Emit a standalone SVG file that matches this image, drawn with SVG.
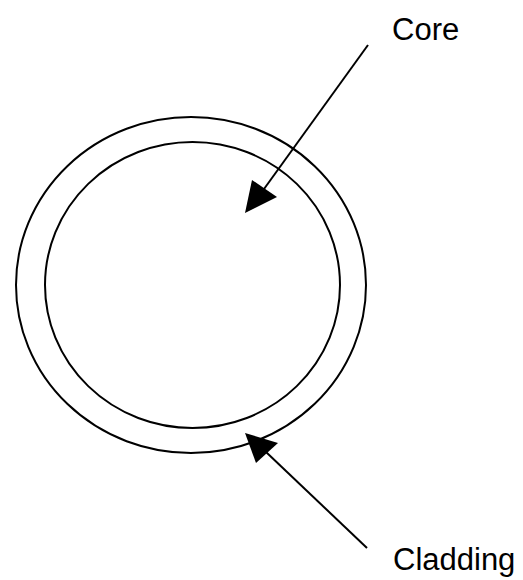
<svg xmlns="http://www.w3.org/2000/svg" width="523" height="580" viewBox="0 0 523 580">
<style>
.ring{fill:none;stroke:#000;stroke-width:2}
.conn{stroke:#000;stroke-width:2;fill:none}
.head{fill:#000}
.lbl{font-family:"Liberation Sans",Arial,sans-serif;font-size:31px;fill:#000}
</style>
<rect width="523" height="580" fill="#fff"/>
<g id="cladding-ring"><ellipse class="ring" cx="191" cy="285" rx="175" ry="168"/></g>
<g id="core-ring"><ellipse class="ring" cx="192.5" cy="285" rx="147.5" ry="143"/></g>
<g id="connectors">
<line class="conn" x1="368" y1="45" x2="264" y2="189"/>
<polygon class="head" points="245,213 252,180 277,197"/>
<line class="conn" x1="367" y1="548" x2="266" y2="452"/>
<polygon class="head" points="245,433 256,463 278,443"/>
</g>
<g id="label-core"><text class="lbl" x="392" y="40">Core</text></g>
<g id="label-cladding"><text class="lbl" x="393" y="570">Cladding</text></g>
</svg>
